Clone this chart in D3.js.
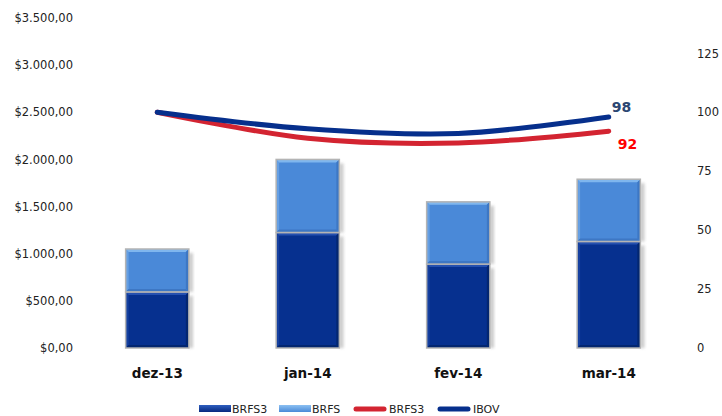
<!DOCTYPE html>
<html>
<head>
<meta charset="utf-8">
<script src="https://cdn.jsdelivr.net/npm/d3@7"></script>
<style>
  html, body { margin: 0; padding: 0; background: #fff; }
  svg { display: block; font-family: "DejaVu Sans", Verdana, sans-serif; }
</style>
</head>
<body>
<svg id="chart" width="722" height="416"></svg>
<script>
// Monthly categories
const categories = ["dez-13", "jan-14", "fev-14", "mar-14"];
// Stacked bars (left axis, R$)
const brfs3Bar = [595, 1225, 890, 1130];
const brfsBar = [455, 775, 660, 660];
// Index lines (right axis, base 100)
const brfs3Line = [100, 89, 87, 92];
const ibovLine = [100, 93, 91, 98];
// Axis ticks
const leftTicks = [0, 500, 1000, 1500, 2000, 2500, 3000, 3500];
const rightTicks = [0, 25, 50, 75, 100, 125];
// Legend entries
const legendLabels = ["BRFS3", "BRFS", "BRFS3", "IBOV"];

const svg = d3.select("#chart");
const margin = { left: 82, right: 38, top: 18, bottom: 68 };
const W = 722, H = 416;

const x = d3.scaleBand().domain(categories)
  .range([margin.left, W - margin.right]).paddingInner(0.58).paddingOuter(0.29);
const yL = d3.scaleLinear().domain([0, 3500]).range([H - margin.bottom, margin.top]);
const yR = d3.scaleLinear().domain([0, 140]).range([H - margin.bottom, margin.top]);

const loc = d3.formatLocale({ decimal: ",", thousands: ".", grouping: [3], currency: ["$", ""] });
const fmtMoney = loc.format("$,.2f");

const defs = svg.append("defs");
const blur = defs.append("filter").attr("id", "shadowBlur")
  .attr("x", "-50%").attr("y", "-10%").attr("width", "200%").attr("height", "120%");
blur.append("feGaussianBlur").attr("stdDeviation", 1.4);

function lineGrad(id, c1, c2) {
  const g = defs.append("linearGradient").attr("id", id).attr("x1", 0).attr("x2", 0).attr("y1", 0).attr("y2", 1);
  g.append("stop").attr("offset", "0%").attr("stop-color", c1);
  g.append("stop").attr("offset", "100%").attr("stop-color", c2);
}
lineGrad("swDark", "#2f5fc0", "#06297f");
lineGrad("swLight", "#8cc0f2", "#4a8ad8");

// Left axis
const axL = svg.append("g").attr("transform", `translate(${margin.left},0)`)
  .call(d3.axisLeft(yL).tickValues(leftTicks).tickFormat(fmtMoney).tickSize(0).tickPadding(9));
axL.select(".domain").remove();
axL.selectAll("text").attr("font-size", 11.5).attr("fill", "#222").attr("font-family", "DejaVu Sans, Verdana, sans-serif");

// Right axis
const axR = svg.append("g").attr("transform", `translate(${W - margin.right},0)`)
  .call(d3.axisRight(yR).tickValues(rightTicks).tickSize(0).tickPadding(13));
axR.select(".domain").remove();
axR.selectAll("text").attr("font-size", 11.5).attr("fill", "#222").attr("font-family", "DejaVu Sans, Verdana, sans-serif");

// Category axis
const axX = svg.append("g").attr("transform", `translate(0,${H - margin.bottom})`)
  .call(d3.axisBottom(x).tickSize(0).tickPadding(20));
axX.select(".domain").remove();
axX.selectAll("text").attr("font-size", 13.5).attr("font-weight", "bold").attr("fill", "#111")
  .attr("font-family", "DejaVu Sans, Verdana, sans-serif");

// Bevelled bar segment
function bevelBar(g, x0, y0, w, h, base, hi, lo) {
  g.append("rect").attr("x", x0 + w).attr("y", y0 + 4).attr("width", 4).attr("height", h - 4)
    .attr("fill", "#9a9a9a").attr("opacity", 0.55).attr("filter", "url(#shadowBlur)");
  g.append("rect").attr("x", x0).attr("y", y0).attr("width", w).attr("height", h).attr("fill", base);
  const b = 3;
  g.append("polygon").attr("points", [[x0, y0], [x0 + w, y0], [x0 + w - b, y0 + b], [x0 + b, y0 + b]].join(" ")).attr("fill", hi);
  g.append("polygon").attr("points", [[x0, y0], [x0 + b, y0 + b], [x0 + b, y0 + h - b], [x0, y0 + h]].join(" ")).attr("fill", hi).attr("opacity", 0.5);
  g.append("polygon").attr("points", [[x0 + w, y0], [x0 + w, y0 + h], [x0 + w - b, y0 + h - b], [x0 + w - b, y0 + b]].join(" ")).attr("fill", lo);
  g.append("polygon").attr("points", [[x0, y0 + h], [x0 + w, y0 + h], [x0 + w - b, y0 + h - b], [x0 + b, y0 + h - b]].join(" ")).attr("fill", lo);
  g.append("rect").attr("x", x0).attr("y", y0).attr("width", w).attr("height", h)
    .attr("fill", "none").attr("stroke", "#b4b4b4").attr("stroke-width", 1.5);
}

const bars = svg.append("g");
categories.forEach((c, i) => {
  const x0 = x(c), w = x.bandwidth();
  const yDark = yL(brfs3Bar[i]);
  const yTop = yL(brfs3Bar[i] + brfsBar[i]);
  bevelBar(bars, x0, yDark, w, yL(0) - yDark, "#06308f", "#2450b0", "#032670");
  bevelBar(bars, x0, yTop, w, yDark - yTop, "#4a89d8", "#7fb6ee", "#3d77c4");
});

// Smoothed index lines
const line = d3.line().x((d, i) => x(categories[i]) + x.bandwidth() / 2).y(d => yR(d)).curve(d3.curveCatmullRom.alpha(0.5));
svg.append("path").datum(brfs3Line).attr("d", line).attr("fill", "none")
  .attr("stroke", "#d32431").attr("stroke-width", 5).attr("stroke-linecap", "round");
svg.append("path").datum(ibovLine).attr("d", line).attr("fill", "none")
  .attr("stroke", "#062f8c").attr("stroke-width", 5).attr("stroke-linecap", "round");

// End-point labels
const last = categories.length - 1;
const xEnd = x(categories[last]) + x.bandwidth() / 2;
svg.append("text").attr("x", xEnd + 3).attr("y", yR(ibovLine[last]) - 5)
  .attr("font-size", 14).attr("font-weight", "bold").attr("fill", "#2c4772").text(ibovLine[last]);
svg.append("text").attr("x", xEnd + 9).attr("y", yR(brfs3Line[last]) + 18)
  .attr("font-size", 14).attr("font-weight", "bold").attr("fill", "#ff0000").text(brfs3Line[last]);

// Legend
const lg = svg.append("g").attr("font-size", 11).attr("fill", "#222");
const legendY = 409;
const items = [
  { x: 199, type: "bar", fill: "url(#swDark)" },
  { x: 279, type: "bar", fill: "url(#swLight)" },
  { x: 356, type: "line", stroke: "#d32431" },
  { x: 440, type: "line", stroke: "#062f8c" }
];
items.forEach((it, i) => {
  if (it.type === "bar") {
    lg.append("rect").attr("x", it.x).attr("y", legendY - 4).attr("width", 32).attr("height", 7).attr("fill", it.fill);
  } else {
    lg.append("line").attr("x1", it.x).attr("x2", it.x + 28).attr("y1", legendY).attr("y2", legendY)
      .attr("stroke", it.stroke).attr("stroke-width", 5).attr("stroke-linecap", "round");
  }
  lg.append("text").attr("x", it.x + 33).attr("y", legendY + 4).text(legendLabels[i]);
});
</script>
</body>
</html>
